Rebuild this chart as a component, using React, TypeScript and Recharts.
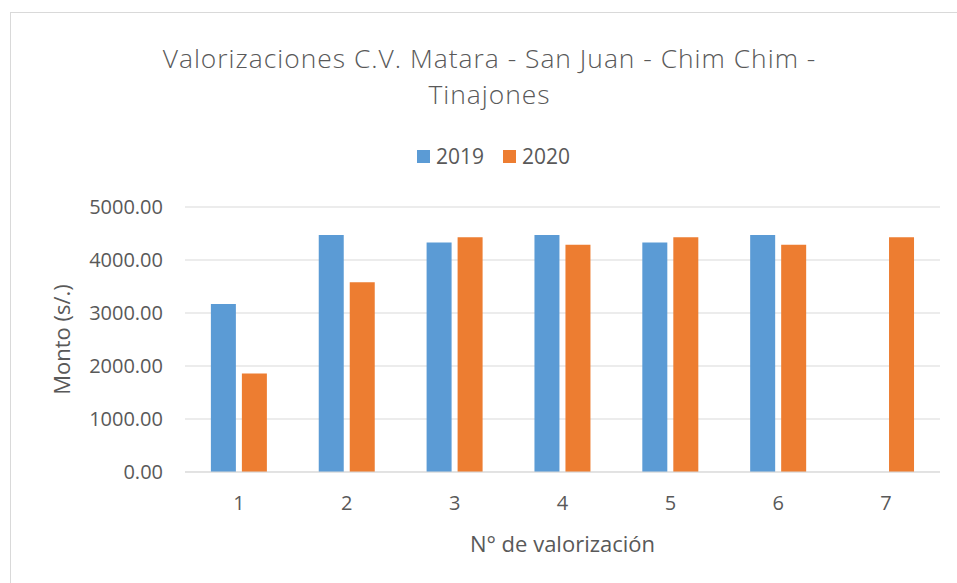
import React from 'react';
import { BarChart, Bar, XAxis, YAxis, CartesianGrid } from 'recharts';

const categories = ['1', '2', '3', '4', '5', '6', '7'];
const values2019: (number | null)[] = [3170, 4470, 4330, 4470, 4330, 4470, null];
const values2020: number[] = [1860, 3580, 4430, 4290, 4430, 4290, 4430];
const yTicks = [0, 1000, 2000, 3000, 4000, 5000];
const seriesNames = ['2019', '2020'];
const titleLines = ['Valorizaciones C.V. Matara - San Juan - Chim Chim -', 'Tinajones'];

const data = categories.map((c, i) => ({ name: c, y2019: values2019[i], y2020: values2020[i] }));

const FONT = '"Open Sans", sans-serif';
const TEXT = '#595959';
const BLUE = '#5B9BD5';
const ORANGE = '#ED7D31';

export default function App() {
  return (
    <div style={{ position: 'absolute', left: 0, top: 0, width: 957, height: 583, background: '#fff', overflow: 'hidden' }}>
      <div style={{ position: 'absolute', left: 10, top: 12, width: 960, height: 600, border: '1px solid #d9d9d9', boxSizing: 'border-box' }} />
      {titleLines.map((t, i) => (
        <div
          key={t}
          style={{
            position: 'absolute',
            left: 0,
            top: 40 + i * 36,
            width: 979,
            height: 36,
            textAlign: 'center',
            fontFamily: FONT,
            fontWeight: 300,
            fontSize: 26.4,
            letterSpacing: 1,
            lineHeight: '36px',
            color: TEXT,
            whiteSpace: 'nowrap',
          }}
        >
          {t}
        </div>
      ))}
      <div style={{ position: 'absolute', left: 417, top: 143, display: 'flex', alignItems: 'center', fontFamily: FONT, fontSize: 21, color: TEXT, lineHeight: '26px' }}>
        <span style={{ display: 'inline-block', width: 13, height: 13, background: BLUE, marginRight: 6 }} />
        <span style={{ marginRight: 19 }}>{seriesNames[0]}</span>
        <span style={{ display: 'inline-block', width: 13, height: 13, background: ORANGE, marginRight: 6 }} />
        <span>{seriesNames[1]}</span>
      </div>
      <div style={{ position: 'absolute', left: 0, top: 0 }}>
        <BarChart
          width={957}
          height={583}
          data={data}
          margin={{ top: 207, right: 17, left: 100, bottom: 21 }}
          barCategoryGap="24%"
          barGap={6}
        >
          <CartesianGrid vertical={false} stroke="#d9d9d9" strokeWidth={1} />
          <XAxis
            dataKey="name"
            height={90}
            axisLine={{ stroke: '#d9d9d9' }}
            tickLine={false}
            tickSize={0}
            tickMargin={24}
            tick={{ fill: TEXT, fontSize: 20, fontFamily: FONT }}
            label={{
              content: (p: any) => {
                const vb = p.viewBox;
                return (
                  <text x={vb.x + vb.width / 2} y={vb.y + 80} textAnchor="middle" fill={TEXT} fontSize={22} fontFamily={FONT}>
                    N° de valorización
                  </text>
                );
              },
            }}
          />
          <YAxis
            width={85}
            domain={[0, 5000]}
            ticks={yTicks}
            axisLine={false}
            tickLine={false}
            tickSize={0}
            tickMargin={22}
            tickFormatter={(v: number) => v.toFixed(2)}
            tick={{ fill: TEXT, fontSize: 20, fontFamily: FONT }}
            label={{
              content: (p: any) => {
                const vb = p.viewBox;
                const cy = vb.y + vb.height / 2;
                return (
                  <text x={70} y={cy} transform={`rotate(-90 70 ${cy})`} textAnchor="middle" fill={TEXT} fontSize={22} fontFamily={FONT}>
                    Monto (s/.)
                  </text>
                );
              },
            }}
          />
          <Bar dataKey="y2019" name={seriesNames[0]} fill={BLUE} isAnimationActive={false} />
          <Bar dataKey="y2020" name={seriesNames[1]} fill={ORANGE} isAnimationActive={false} />
        </BarChart>
      </div>
    </div>
  );
}
